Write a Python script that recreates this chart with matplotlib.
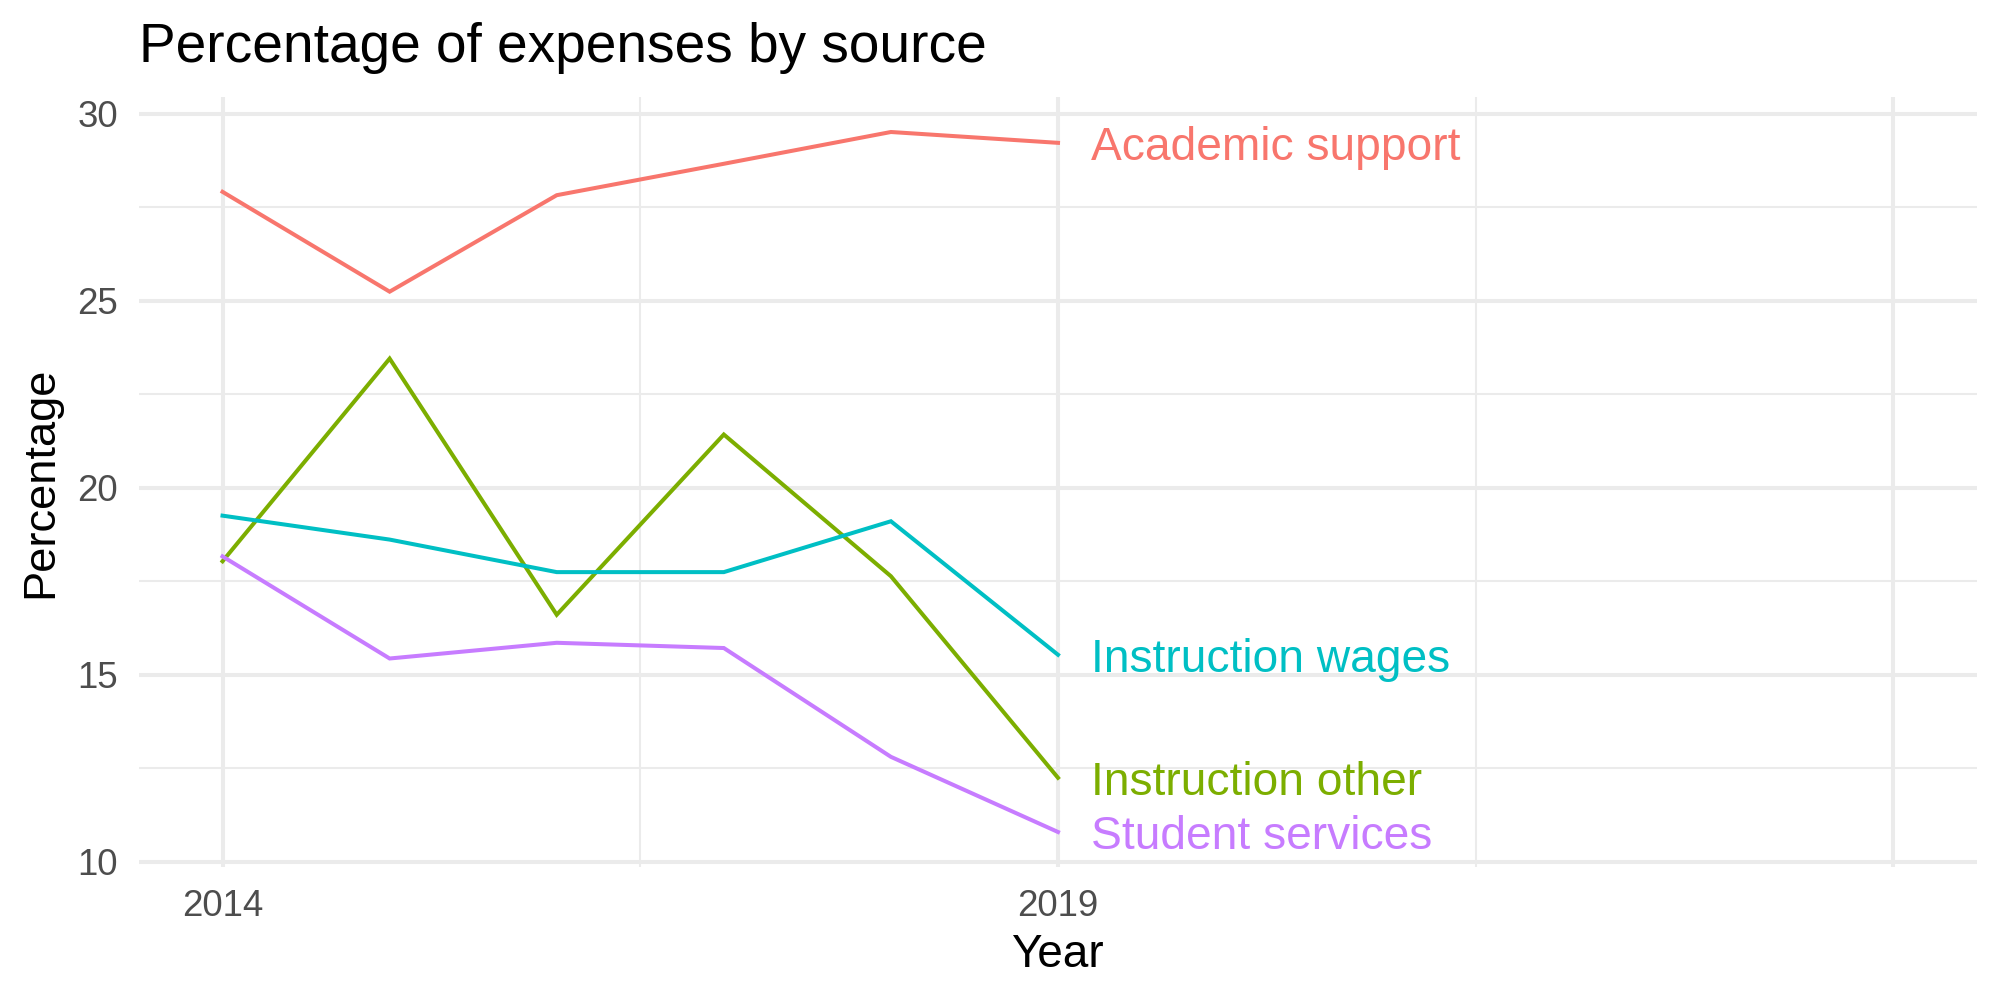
import matplotlib
matplotlib.use("Agg")
import matplotlib.pyplot as plt
from matplotlib.ticker import MultipleLocator

plt.rcParams['font.family'] = ['Liberation Sans', 'DejaVu Sans']

# data
years = [2014, 2015, 2016, 2017, 2018, 2019]
academic_support = [27.91, 25.24, 27.82, 28.66, 29.51, 29.22]
instruction_other = [18.03, 23.45, 16.60, 21.42, 17.63, 12.24]
instruction_wages = [19.25, 18.61, 17.74, 17.74, 19.10, 15.53]
student_services = [18.16, 15.43, 15.85, 15.71, 12.80, 10.79]

series = [
    ("Academic support", academic_support, "#F8766D"),
    ("Instruction other", instruction_other, "#7CAE00"),
    ("Instruction wages", instruction_wages, "#00BFC4"),
    ("Student services", student_services, "#C77CFF"),
]

fig = plt.figure(figsize=(10, 5), dpi=200)
ax = fig.add_axes([0.0695, 0.133, 0.919, 0.770])

for name, vals, col in series:
    ax.plot(years, vals, color=col, lw=1.45, solid_joinstyle='miter')
    ax.text(years[-1] + 0.2, vals[-1], name, color=col, fontsize=16.6,
            va='center_baseline', ha='left')

# limits like ggplot's default 5% expansion
lo = min(min(v) for _, v, _ in series)
hi = max(max(v) for _, v, _ in series)
pad = (hi - lo) * 0.05
ax.set_ylim(lo - pad, hi + pad)
ax.set_xlim(2013.5, 2024.5)

ax.yaxis.set_major_locator(MultipleLocator(5))
ax.yaxis.set_minor_locator(MultipleLocator(2.5))
ax.set_xticks([2014, 2019, 2024])
ax.set_xticklabels(["2014", "2019", ""])
ax.set_xticks([2016.5, 2021.5], minor=True)

ax.grid(which='major', color='#EBEBEB', lw=1.45)
ax.grid(which='minor', color='#EBEBEB', lw=0.75)
ax.set_axisbelow(True)
for s in ax.spines.values():
    s.set_visible(False)
ax.tick_params(which='both', length=0)
ax.tick_params(axis='y', labelsize=13.2, labelcolor='#4D4D4D', pad=7.5)
ax.tick_params(axis='x', labelsize=13.2, labelcolor='#4D4D4D', pad=8)

fig.text(0.0695, 0.938, "Percentage of expenses by source", fontsize=19.8,
         ha='left', va='baseline')
fig.text(0.5285, 0.033, "Year", fontsize=16.5, ha='center', va='baseline')
fig.text(0.0205, 0.518, "Percentage", fontsize=16.3, rotation=90,
         ha='center', va='center')

fig.savefig("out.png", dpi=200)
